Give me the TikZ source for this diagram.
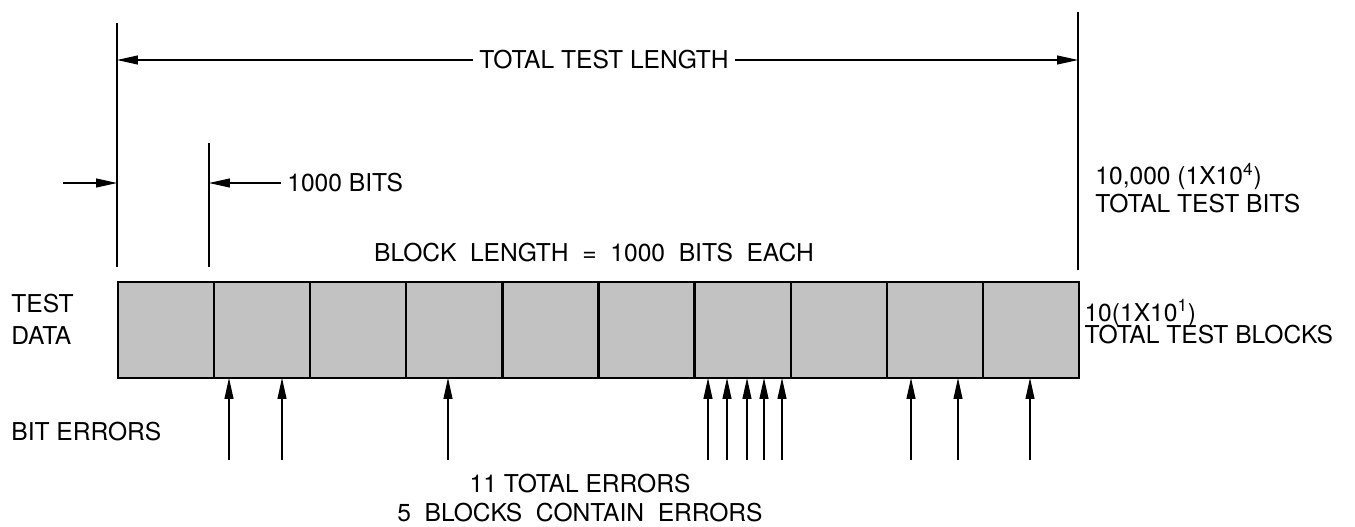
\documentclass[tikz,border=0pt]{standalone}
\usepackage{fontspec}
\setmainfont{TeX Gyre Heros}
\usetikzlibrary{arrows.meta}

\begin{document}
\begin{tikzpicture}[x=0.02cm, y=-0.02cm, >={Triangle[length=4.2mm, width=1.8mm]}, line width=0.6pt,
  font=\fontsize{14}{16}\selectfont,
  bloque/.style={draw, line width=1.3pt, fill=black!24, minimum width=1.922cm, minimum height=1.92cm, outer sep=0pt}]
  \useasboundingbox (0,0) rectangle (1355,527);
  \coordinate (LT) at (117,23);
  \coordinate (LB) at (117,267);
  \coordinate (MT) at (209,143);
  \coordinate (MB) at (209,267);
  \coordinate (RT) at (1078,12);
  \coordinate (RB) at (1078,270);
  \draw (LT)--(LB); \draw (MT)--(MB); \draw (RT)--(RB);
  % longitud total
  \node (total) at (604,60){TOTAL TEST LENGTH};
  \draw[->] (total.west)--(LT |- total.west);
  \draw[->] (total.east)--(RT |- total.east);
  % un bloque
  \coordinate (A) at (63,183);
  \draw[->] (A)--(LT |- A);
  \node[anchor=west] (bits) at (281,183){1000 BITS};
  \draw[->] (bits.west)--(MT |- bits.west);
  \node[anchor=west, align=left] (tbits) at (1089,188){10,000 (1X10\textsuperscript{4})\\TOTAL TEST BITS};
  \node (blen) at (594,253){BLOCK\ \ LENGTH\ \ =\ \ 1000\ \ BITS\ \ EACH};
  % bloques
  \foreach \i in {1,...,10}
    \node[bloque] (b\i) at ({118+96.1*(\i-0.5)},330){};
  \node[anchor=west, align=left] (tdata) at (5,319){TEST\\[2pt]DATA};
  \node[anchor=west, align=left, inner sep=0pt] (tblocks) at (1084,322){10(1X10\textsuperscript{1})\\[-3pt]TOTAL TEST BLOCKS};
  % errores
  \node[anchor=west] (berr) at (5,432){BIT ERRORS};
  \foreach \x/\b [count=\k] in {229/2,282/2,448/4,708/7,727/7,747/7,764/7,782/7,911/9,958/9,1030/10}{
    \coordinate (e\k) at (\x,460);
    \draw[->] (e\k)--(e\k |- b\b.south);
  }
  \node[align=center] (terr) at (580,498){11 TOTAL ERRORS\\5\ \ BLOCKS\ \ CONTAIN\ \ ERRORS};
\end{tikzpicture}
\end{document}
